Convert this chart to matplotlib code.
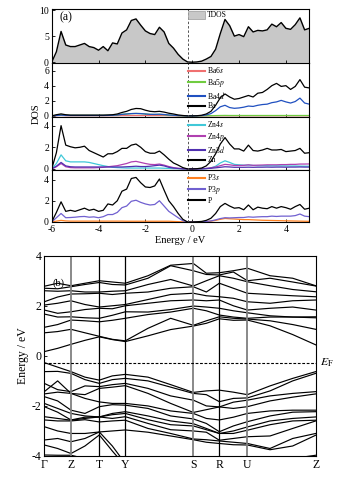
import numpy as np
import matplotlib
matplotlib.use("Agg")
import matplotlib.pyplot as plt
from matplotlib.patches import Patch

plt.rcParams['font.family'] = ['Liberation Serif', 'DejaVu Serif']
plt.rcParams['mathtext.fontset'] = 'stix'
plt.rcParams['axes.unicode_minus'] = False

# ---------------- DOS data ----------------
energy = np.linspace(-6, 5, 56)

tdos = [0.0, 2.0, 5.9, 3.3, 3.0, 3.0, 3.3, 3.6, 3.0, 2.8,
        2.3, 3.0, 2.2, 3.7, 3.5, 5.6, 6.2, 8.0, 8.3, 7.1,
        6.0, 5.5, 5.3, 6.7, 5.8, 3.6, 2.7, 1.5, 0.6, 0.05,
        0.0, 0.05, 0.2, 0.6, 1.1, 2.5, 5.5, 8.2, 7.0, 5.0,
        5.3, 4.9, 6.8, 5.8, 6.1, 6.0, 6.2, 7.3, 6.8, 7.6,
        6.5, 6.3, 7.2, 8.5, 6.2, 6.5]

ba6s = [0.0, 0.03, 0.06, 0.03, 0.03, 0.03, 0.03, 0.03, 0.03, 0.03,
        0.03, 0.03, 0.03, 0.03, 0.03, 0.05, 0.05, 0.05, 0.05, 0.05,
        0.05, 0.05, 0.05, 0.05, 0.05, 0.03, 0.02, 0.01, 0.0, 0.0,
        0.0, 0.0, 0.0, 0.01, 0.02, 0.02, 0.02, 0.02, 0.02, 0.02,
        0.02, 0.02, 0.02, 0.02, 0.02, 0.02, 0.02, 0.02, 0.02, 0.02,
        0.02, 0.02, 0.02, 0.02, 0.02, 0.02]
ba5p = [0.0, 0.08, 0.15, 0.08, 0.06, 0.06, 0.06, 0.06, 0.06, 0.06,
        0.06, 0.06, 0.07, 0.08, 0.12, 0.2, 0.25, 0.3, 0.32, 0.3,
        0.25, 0.2, 0.18, 0.2, 0.15, 0.1, 0.06, 0.03, 0.01, 0.0,
        0.0, 0.0, 0.01, 0.02, 0.03, 0.04, 0.05, 0.06, 0.05, 0.05,
        0.05, 0.05, 0.05, 0.05, 0.05, 0.05, 0.05, 0.05, 0.05, 0.05,
        0.05, 0.05, 0.05, 0.05, 0.05, 0.05]
ba4d = [0.0, 0.05, 0.1, 0.06, 0.05, 0.05, 0.05, 0.05, 0.05, 0.05,
        0.05, 0.05, 0.06, 0.08, 0.12, 0.2, 0.25, 0.3, 0.32, 0.3,
        0.25, 0.2, 0.2, 0.22, 0.18, 0.12, 0.08, 0.04, 0.02, 0.0,
        0.0, 0.01, 0.04, 0.12, 0.3, 0.7, 1.2, 1.4, 1.1, 1.0,
        1.05, 1.15, 1.3, 1.25, 1.4, 1.5, 1.55, 1.75, 1.85, 2.05,
        1.85, 1.7, 1.9, 2.35, 1.7, 1.55]
ba_tot = [0.0, 0.15, 0.26, 0.15, 0.1, 0.1, 0.1, 0.1, 0.1, 0.1,
          0.1, 0.1, 0.12, 0.15, 0.25, 0.45, 0.6, 0.85, 0.98, 0.95,
          0.75, 0.6, 0.55, 0.6, 0.5, 0.35, 0.25, 0.12, 0.05, 0.0,
          0.0, 0.02, 0.08, 0.25, 0.6, 1.4, 2.4, 2.9, 2.5, 2.2,
          2.3, 2.5, 2.7, 2.5, 3.0, 3.1, 3.5, 4.0, 4.3, 3.9,
          4.0, 3.5, 3.9, 4.8, 3.8, 3.7]

zn4s = [0.0, 0.5, 1.3, 0.75, 0.65, 0.65, 0.65, 0.65, 0.6, 0.5,
        0.4, 0.3, 0.22, 0.15, 0.12, 0.1, 0.08, 0.08, 0.08, 0.08,
        0.08, 0.08, 0.08, 0.08, 0.06, 0.05, 0.03, 0.02, 0.01, 0.0,
        0.0, 0.0, 0.01, 0.03, 0.1, 0.25, 0.55, 0.75, 0.6, 0.42,
        0.38, 0.35, 0.35, 0.33, 0.3, 0.3, 0.3, 0.29, 0.29, 0.28,
        0.28, 0.27, 0.27, 0.26, 0.25, 0.25]
zn4p = [0.0, 0.2, 0.5, 0.2, 0.12, 0.1, 0.1, 0.1, 0.1, 0.1,
        0.12, 0.15, 0.2, 0.25, 0.3, 0.4, 0.5, 0.65, 0.7, 0.6,
        0.5, 0.42, 0.4, 0.45, 0.35, 0.22, 0.12, 0.06, 0.02, 0.0,
        0.0, 0.0, 0.02, 0.05, 0.1, 0.18, 0.3, 0.42, 0.38, 0.32,
        0.32, 0.33, 0.38, 0.33, 0.35, 0.36, 0.38, 0.38, 0.38, 0.4,
        0.4, 0.42, 0.42, 0.45, 0.45, 0.46]
zn3d = [0.0, 0.25, 0.6, 0.28, 0.2, 0.18, 0.18, 0.18, 0.18, 0.18,
        0.18, 0.18, 0.18, 0.18, 0.18, 0.18, 0.2, 0.22, 0.25, 0.22,
        0.22, 0.25, 0.3, 0.35, 0.28, 0.15, 0.08, 0.04, 0.01, 0.0,
        0.0, 0.0, 0.01, 0.03, 0.06, 0.1, 0.15, 0.2, 0.18, 0.15,
        0.15, 0.15, 0.16, 0.15, 0.16, 0.16, 0.17, 0.16, 0.17, 0.17,
        0.16, 0.17, 0.17, 0.18, 0.17, 0.17]
zn_tot = [0.0, 1.5, 4.0, 2.2, 2.05, 1.95, 2.0, 2.1, 1.7, 1.5,
          1.3, 1.1, 1.4, 1.4, 1.6, 1.9, 1.9, 2.2, 2.3, 2.0,
          1.6, 1.45, 1.45, 1.65, 1.3, 0.9, 0.55, 0.35, 0.12, 0.0,
          0.0, 0.02, 0.08, 0.28, 0.7, 1.4, 2.3, 2.9, 2.3, 1.85,
          1.85, 1.65, 2.2, 1.7, 1.65, 1.75, 1.9, 1.75, 1.75, 1.8,
          1.6, 1.65, 1.7, 1.9, 1.45, 1.5]

p3s = [0.0, 0.08, 0.15, 0.1, 0.08, 0.08, 0.08, 0.08, 0.08, 0.08,
       0.08, 0.08, 0.08, 0.08, 0.08, 0.08, 0.07, 0.07, 0.07, 0.07,
       0.07, 0.07, 0.07, 0.07, 0.07, 0.07, 0.05, 0.03, 0.01, 0.0,
       0.0, 0.0, 0.01, 0.03, 0.08, 0.15, 0.25, 0.33, 0.3, 0.28,
       0.25, 0.22, 0.22, 0.2, 0.18, 0.16, 0.15, 0.14, 0.13, 0.12,
       0.11, 0.1, 0.09, 0.08, 0.07, 0.06]
p3p = [0.0, 0.4, 0.8, 0.4, 0.42, 0.45, 0.5, 0.52, 0.45, 0.48,
       0.4, 0.5, 0.7, 0.7, 0.9, 1.35, 1.5, 1.95, 2.05, 1.85,
       1.7, 1.6, 1.65, 2.0, 1.5, 1.0, 0.7, 0.4, 0.12, 0.0,
       0.0, 0.01, 0.02, 0.05, 0.1, 0.2, 0.32, 0.4, 0.38, 0.4,
       0.42, 0.42, 0.48, 0.45, 0.48, 0.5, 0.5, 0.55, 0.52, 0.55,
       0.55, 0.55, 0.6, 0.75, 0.55, 0.5]
p_tot = [0.0, 0.9, 1.9, 1.0, 1.1, 1.0, 1.15, 1.3, 1.1, 1.2,
         1.0, 1.1, 1.7, 1.6, 2.0, 2.9, 3.1, 4.1, 4.2, 3.7,
         3.3, 3.25, 3.4, 4.05, 3.0, 2.0, 1.45, 0.8, 0.25, 0.0,
         0.0, 0.02, 0.05, 0.15, 0.35, 0.8, 1.45, 1.75, 1.5, 1.3,
         1.35, 1.15, 1.6, 1.15, 1.4, 1.3, 1.25, 1.45, 1.3, 1.45,
         1.35, 1.2, 1.45, 1.65, 1.2, 1.3]

fermi_dos = -0.18

# ---------------- Band structure data ----------------
kpts = [0, 40, 80, 122, 165, 204, 243, 311, 379, 447, 486, 525, 567, 609, 677, 745, 814]
hs_pos = [0, 80, 165, 243, 447, 525, 609, 814]
hs_labels = ['Γ', 'Z', 'T', 'Y', 'S', 'R', 'U', 'Z']
hs_gray = [False, True, False, False, True, False, True, False]

cond_bands = [
    [0.17, 0.30, 0.46, 0.62, 0.76, 0.65, 0.57, 0.80, 1.05, 1.19, 1.30, 1.48, 1.42, 1.43, 1.20, 0.85, 0.44],
    [0.92, 0.97, 1.06, 0.92, 0.78, 0.66, 0.60, 1.10, 1.50, 1.22, 1.40, 1.56, 1.50, 1.47, 1.40, 1.25, 1.06],
    [1.14, 1.25, 1.43, 1.40, 1.36, 1.42, 1.50, 1.65, 1.75, 1.90, 1.80, 1.63, 1.55, 1.50, 1.55, 1.55, 1.52],
    [1.67, 1.55, 1.56, 1.52, 1.50, 1.62, 1.76, 1.75, 1.85, 1.99, 1.95, 1.90, 1.80, 1.72, 1.60, 1.55, 1.56],
    [1.83, 1.70, 1.76, 1.85, 1.90, 1.88, 2.00, 2.10, 2.20, 2.23, 2.20, 2.23, 2.00, 1.83, 1.90, 1.95, 1.83],
    [2.03, 2.10, 2.20, 2.05, 1.95, 2.00, 2.05, 2.25, 2.45, 2.50, 2.40, 2.36, 2.30, 2.16, 2.10, 2.20, 2.23],
    [2.16, 2.35, 2.47, 2.48, 2.50, 2.45, 2.50, 2.55, 2.70, 2.76, 2.55, 2.90, 2.70, 2.50, 2.45, 2.40, 2.36],
    [2.60, 2.58, 2.60, 2.55, 2.55, 2.58, 2.60, 2.85, 3.05, 2.79, 3.00, 3.20, 3.10, 2.96, 2.80, 2.65, 2.56],
    [2.70, 2.68, 2.76, 2.85, 2.93, 2.85, 2.83, 3.10, 3.60, 3.40, 3.25, 3.23, 3.35, 3.00, 3.10, 2.95, 2.79],
    [2.78, 2.90, 2.80, 2.90, 3.00, 2.95, 2.90, 3.20, 3.62, 3.69, 3.30, 3.32, 3.40, 3.50, 3.20, 3.10, 2.80],
]
val_bands = [
    [-0.27, -0.45, -0.63, -0.85, -0.97, -0.80, -0.74, -0.85, -1.15, -1.46, -1.40, -1.37, -1.45, -1.55, -1.20, -0.90, -0.63],
    [-0.63, -0.62, -0.70, -0.95, -1.10, -0.95, -0.90, -1.00, -1.25, -1.50, -1.55, -1.83, -1.70, -1.68, -1.40, -1.00, -0.70],
    [-1.10, -1.35, -1.43, -1.20, -1.23, -1.15, -1.10, -1.30, -1.60, -1.77, -2.00, -2.04, -1.85, -1.77, -1.60, -1.50, -1.43],
    [-1.43, -1.00, -1.50, -1.55, -1.30, -1.25, -1.19, -1.50, -1.90, -2.26, -2.15, -2.04, -2.10, -2.03, -1.80, -1.65, -1.52],
    [-1.52, -1.45, -1.50, -1.70, -1.84, -1.90, -1.90, -2.00, -2.20, -2.30, -2.50, -2.56, -2.45, -2.30, -2.20, -2.17, -2.17],
    [-1.63, -1.80, -2.17, -2.30, -2.03, -1.95, -1.97, -2.10, -2.40, -2.52, -2.70, -3.03, -2.80, -2.63, -2.40, -2.25, -2.23],
    [-1.90, -2.10, -2.30, -2.40, -2.44, -2.30, -2.23, -2.40, -2.60, -2.71, -2.90, -3.10, -3.00, -2.84, -2.60, -2.50, -2.44],
    [-2.03, -2.25, -2.56, -2.45, -2.44, -2.35, -2.30, -2.55, -2.75, -2.80, -2.95, -3.10, -3.10, -2.97, -2.75, -2.60, -2.57],
    [-2.43, -2.50, -2.57, -2.50, -2.44, -2.50, -2.43, -2.70, -2.95, -3.00, -3.05, -3.37, -3.30, -3.23, -3.20, -2.90, -2.60],
    [-2.56, -2.60, -2.60, -2.55, -2.64, -2.60, -2.57, -2.90, -3.10, -3.32, -3.35, -3.40, -3.45, -3.50, -3.70, -3.30, -3.10],
    [-2.83, -3.00, -3.10, -3.10, -3.04, -3.00, -2.96, -3.05, -3.20, -3.35, -3.45, -3.50, -3.55, -3.56, -3.75, -3.60, -3.17],
    [-3.36, -3.30, -3.43, -3.30, -3.04, -3.60, -4.30, -4.50, -4.50, -4.40, -4.40, -4.40, -4.30, -4.20, -4.20, -4.10, -3.97],
    [-3.56, -3.70, -3.90, -3.60, -3.16, -3.80, -4.40, -4.60, -4.60, -4.60, -4.50, -4.50, -4.50, -4.40, -4.40, -4.30, -4.20],
    [-3.96, -3.97, -3.97, -4.10, -4.30, -4.50, -4.60, -4.70, -4.70, -4.70, -4.60, -4.60, -4.60, -4.50, -4.50, -4.40, -4.30],
]
fermi_band = -0.28

# ---------------- Figure ----------------
W, H = 337, 478
fig = plt.figure(figsize=(W / 100, H / 100), dpi=100)


def ax_px(left, top, right, bottom):
    return fig.add_axes([left / W, 1 - bottom / H, (right - left) / W, (bottom - top) / H])


edges = [9, 63, 117, 170, 222.5]
axes = [ax_px(51.7, edges[i], 309.3, edges[i + 1]) for i in range(4)]

tick_fs = 7
leg_fs = 5.5

# Panel 1: TDOS
a = axes[0]
a.fill_between(energy, 0, tdos, color='#c8c8c8', lw=0)
a.plot(energy, tdos, color='black', lw=1.0)
a.set_ylim(-0.15, 10.2)
a.set_yticks([0, 5, 10])
a.text(0.03, 0.80, '(a)', transform=a.transAxes, fontsize=8.5)
a.legend(handles=[Patch(facecolor='#c8c8c8', edgecolor='#999999', lw=0.5, label='TDOS')],
         loc='upper left', bbox_to_anchor=(0.515, 1.03), frameon=False, fontsize=leg_fs,
         handlelength=2.2, handleheight=1.1, handletextpad=0.3, borderaxespad=0.1)

# Panel 2: Ba
a = axes[1]
series2 = [(ba6s, '#f07070', 'Ba6$s$'), (ba5p, '#70cc40', 'Ba5$p$'),
           (ba4d, '#2050c0', 'Ba4$d$'), (ba_tot, 'black', 'Ba')]
for y, c, lab in series2:
    a.plot(energy, y, color=c, lw=0.9, label=lab)
a.set_ylim(-0.15, 7.0)
a.set_yticks([0, 2, 4, 6])

# Panel 3: Zn
a = axes[2]
series3 = [(zn4s, '#40c8d8', 'Zn4$s$'), (zn4p, '#b040b0', 'Zn4$p$'),
           (zn3d, '#5030b0', 'Zn3$d$'), (zn_tot, 'black', 'Zn')]
for y, c, lab in series3:
    a.plot(energy, y, color=c, lw=0.9, label=lab)
a.set_ylim(-0.1, 4.8)
a.set_yticks([0, 2, 4])

# Panel 4: P
a = axes[3]
series4 = [(p3s, '#ff8020', 'P3$s$'), (p3p, '#7060d0', 'P3$p$'), (p_tot, 'black', 'P')]
for y, c, lab in series4:
    a.plot(energy, y, color=c, lw=0.9, label=lab)
a.set_ylim(-0.05, 4.9)
a.set_yticks([0, 2, 4])

for a in axes[1:]:
    leg = a.legend(loc='upper left', bbox_to_anchor=(0.515, 1.03), frameon=False, fontsize=leg_fs,
                   handlelength=2.2, handletextpad=0.3, labelspacing=0.18, borderaxespad=0.1)
    for h in leg.get_lines():
        h.set_linewidth(1.5)

for i, a in enumerate(axes):
    a.set_xlim(-6, 5)
    a.axvline(fermi_dos, color='#555555', lw=0.7, ls=(0, (2.5, 2)))
    a.set_xticks([-6, -4, -2, 0, 2, 4])
    a.tick_params(direction='in', length=2.5, width=0.6, labelsize=tick_fs, pad=2)
    for s in a.spines.values():
        s.set_linewidth(0.8)
    if i < 3:
        a.tick_params(labelbottom=False)
axes[3].set_xlabel('Energy / eV', fontsize=7.5, labelpad=1)
fig.text(36 / W, 1 - 114 / H, 'DOS', rotation=90, ha='center', va='center', fontsize=7.5)

# ---------------- Band structure ----------------
b = ax_px(44.3, 255.7, 315.7, 456)
for band in cond_bands + val_bands:
    b.plot(kpts, band, color='black', lw=0.85)
for x, g in zip(hs_pos[1:-1], hs_gray[1:-1]):
    b.axvline(x, color='#808080' if g else 'black', lw=1.3 if g else 0.9)
b.axhline(fermi_band, color='black', lw=0.8, ls=(0, (2.5, 1.5)))
b.set_xlim(hs_pos[0], hs_pos[-1])
b.set_ylim(-4, 4)
b.set_yticks([-4, -2, 0, 2, 4])
b.set_xticks(hs_pos)
b.set_xticklabels(hs_labels)
b.tick_params(axis='y', direction='in', length=2.5, width=0.6, labelsize=8.5, pad=2)
b.tick_params(axis='x', length=0, labelsize=8.5, pad=2)
for s in b.spines.values():
    s.set_linewidth(0.8)
b.set_ylabel('Energy / eV', fontsize=8.5, labelpad=2)
b.text(0.03, 0.865, '(b)', transform=b.transAxes, fontsize=7.5, va='center')
b.text(1.015, (fermi_band + 4) / 8, '$E_{\\mathrm{F}}$', transform=b.transAxes, fontsize=8.5,
       va='center', ha='left')

fig.savefig('out.png', dpi=100, facecolor='white')
